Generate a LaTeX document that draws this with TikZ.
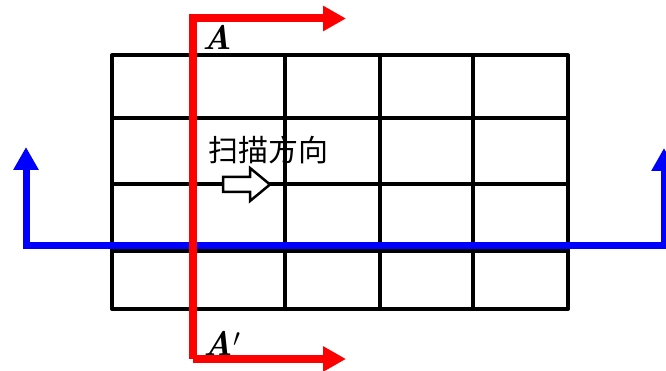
\documentclass[tikz,border=0pt]{standalone}
\usepackage{fontspec}
\newfontfamily\cjk{Noto Sans CJK SC}
\usetikzlibrary{arrows.meta}
\begin{document}
\begin{tikzpicture}[x=1pt,y=-1pt,
  gridline/.style={line width=4pt,black,line cap=round,line join=round},
  redline/.style={line width=8pt,red,line join=miter,-{Triangle[length=23pt,width=24pt]}},
  blueline/.style={line width=7pt,blue,line join=miter},
  hollow/.style={fill=white,draw=black,line width=2.5pt,line join=miter},
  lbl/.style={inner sep=0pt,font=\fontsize{34}{36}\selectfont\bfseries\itshape}]
\useasboundingbox (0,0) rectangle (666,371);
\clip (0,0) rectangle (666,371);
% grid
\draw[gridline] (112,55.5) rectangle (568,309);
\foreach \y in {118,184,251} \draw[gridline] (112,\y) -- (568,\y);
\foreach \x in {285,380,473} \draw[gridline] (\x,55.5) -- (\x,309);
% text and hollow arrow
\node[inner sep=0pt,font=\cjk\fontsize{30}{32}\selectfont] (scan) at (268,150) {扫描方向};
\draw[hollow] (223,177) -- (250,177) -- (250,168) -- (270,184.5) -- (250,201) -- (250,192) -- (223,192) -- cycle;
% blue section line
\coordinate (bl) at (26,246);
\coordinate (br) at (664,246);
\coordinate (blt) at (26,147);
\coordinate (brt) at (664,148);
\draw[blueline,{Triangle[length=23pt,width=24pt]}-{Triangle[length=23pt,width=24pt]}] (blt) -- (bl) -- (br) -- (brt);
% red section line
\coordinate (rb) at (193,359);
\coordinate (rt) at (193,18.5);
\coordinate (rte) at (346,18.5);
\coordinate (rbe) at (346,359);
\draw[redline] (rb) -- (rt) -- (rte);
\draw[redline] (rb) -- (rbe);
\node[lbl] (A) at (217,37) {A};
\node[lbl] (Ap) at (222,343) {A$^{\prime}$};
\end{tikzpicture}
\end{document}
